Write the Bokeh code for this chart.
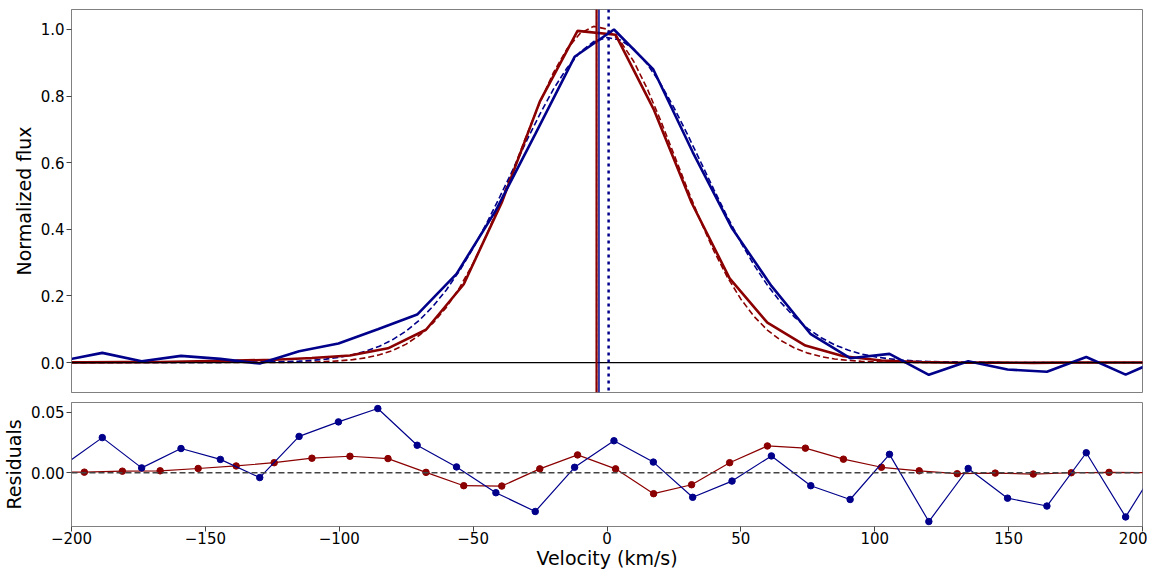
from bokeh.plotting import figure
from bokeh.layouts import column
from bokeh.models import Range1d, Span, FixedTicker, PrintfTickFormatter
from bokeh.embed import file_html
from bokeh.resources import INLINE

# ---- data ----
blue_v = [-203.2, -188.5, -173.8, -159.1, -144.4, -129.7, -115.0, -100.3, -85.6, -70.9,
          -56.2, -41.5, -26.8, -12.1, 2.6, 17.3, 32.0, 46.7, 61.4, 76.1,
          90.8, 105.5, 120.2, 134.9, 149.6, 164.3, 179.0, 193.7, 208.4]
blue_flux = [0.006, 0.029, 0.004, 0.020, 0.011, -0.003, 0.034, 0.057, 0.100, 0.144,
             0.266, 0.457, 0.686, 0.918, 1.000, 0.880, 0.632, 0.403, 0.230, 0.085,
             0.013, 0.026, -0.037, 0.004, -0.021, -0.0275, 0.0165, -0.0365, 0.0156]
blue_resid = [0.0057, 0.029, 0.004, 0.020, 0.011, -0.004, 0.030, 0.042, 0.053, 0.0227,
              0.0048, -0.0165, -0.032, 0.0045, 0.0264, 0.0088, -0.0203, -0.0069, 0.0139, -0.0107,
              -0.0221, 0.0152, -0.0403, 0.0035, -0.021, -0.0275, 0.0165, -0.0365, 0.0156]

red_v = [-209.4, -195.2, -181.0, -166.9, -152.7, -138.5, -124.3, -110.2, -96.0, -81.8,
         -67.6, -53.5, -39.3, -25.1, -11.0, 3.2, 17.4, 31.6, 45.8, 59.9,
         74.1, 88.3, 102.5, 116.6, 130.8, 145.0, 159.2, 173.4, 187.5, 201.6]
red_flux = [0.0003, 0.0005, 0.0013, 0.0016, 0.0035, 0.0056, 0.0085, 0.0135, 0.0213, 0.0426,
            0.0985, 0.2351, 0.4807, 0.7834, 0.9958, 0.9843, 0.7609, 0.4798, 0.2526, 0.1196,
            0.0509, 0.0188, 0.0060, 0.0018, -0.0008, -0.0003, -0.0011, 0.0, 0.0003, 0.0]
red_resid = [0.0003, 0.0005, 0.0013, 0.0016, 0.0035, 0.0056, 0.0083, 0.012, 0.0136, 0.0117,
             0.0003, -0.0107, -0.011, 0.0032, 0.0147, 0.0032, -0.0173, -0.0099, 0.0083, 0.0221,
             0.0203, 0.0112, 0.0045, 0.0016, -0.0008, -0.0003, -0.0011, 0.0, 0.0003, 0.0]

model_v = [-200, -150, -120, -115, -110, -105, -100, -95, -90, -85, -80, -75, -70, -65, -60,
           -55, -50, -45, -40, -35, -30, -25, -20, -15, -10, -5, 0, 5, 10, 15, 20, 25, 30,
           35, 40, 45, 50, 55, 60, 65, 70, 75, 80, 85, 90, 95, 100, 105, 110, 115, 120, 150, 200]
blue_model = [0.0, 0.0001, 0.0026, 0.0042, 0.0066, 0.0103, 0.0157, 0.0234, 0.0342, 0.0490,
              0.0689, 0.0947, 0.1277, 0.1686, 0.2180, 0.2763, 0.3433, 0.4177, 0.4981, 0.5818,
              0.6660, 0.7469, 0.8208, 0.8838, 0.9322, 0.9636, 0.9759, 0.9683, 0.9414, 0.8968,
              0.8370, 0.7655, 0.6858, 0.6021, 0.5180, 0.4366, 0.3604, 0.2916, 0.2312, 0.1796,
              0.1366, 0.1019, 0.0745, 0.0533, 0.0374, 0.0257, 0.0173, 0.0114, 0.0074, 0.0047,
              0.0029, 0.0001, 0.0]
red_model = [0.0, 0.0, 0.0004, 0.0008, 0.0016, 0.0028, 0.0050, 0.0086, 0.0143, 0.0231,
             0.0362, 0.0553, 0.0821, 0.1183, 0.1656, 0.2254, 0.2979, 0.3827, 0.4776, 0.5794,
             0.6829, 0.7820, 0.8703, 0.9410, 0.9886, 1.0093, 1.0012, 0.9651, 0.9038, 0.8226,
             0.7274, 0.6250, 0.5219, 0.4234, 0.3338, 0.2556, 0.1903, 0.1376, 0.0967, 0.0660,
             0.0438, 0.0282, 0.0177, 0.0108, 0.0064, 0.0037, 0.0020, 0.0011, 0.0006, 0.0003,
             0.0001, 0.0, 0.0]

red_center_data = -3.9
red_center_fit = -3.9
blue_center_data = -3.0
blue_center_fit = 0.6

x_ticks = [-200, -150, -100, -50, 0, 50, 100, 150, 200]
top_y_ticks = [0.0, 0.2, 0.4, 0.6, 0.8, 1.0]
res_y_ticks = [0.0, 0.05]

RED = "#8b0000"
BLUE = "#00008b"
FONT = "DejaVu Sans"


def style(p):
    p.outline_line_color = "#808080"
    p.outline_line_width = 1
    p.xgrid.visible = False
    p.ygrid.visible = False
    p.background_fill_color = "white"
    p.border_fill_color = "white"
    for ax in list(p.xaxis) + list(p.yaxis):
        ax.axis_line_color = "#808080"
        ax.major_tick_line_color = "#444444"
        ax.major_tick_out = 5
        ax.major_tick_in = 0
        ax.minor_tick_line_color = None
        ax.major_label_text_font = FONT
        ax.major_label_text_font_size = "15px"
        ax.major_label_text_color = "black"
        ax.major_label_standoff = 2
        ax.axis_label_text_font = FONT
        ax.axis_label_text_font_size = "19px"
        ax.axis_label_text_font_style = "normal"
        ax.axis_label_text_color = "black"
        ax.axis_label_standoff = 3


xr = Range1d(-200, 200)
minus_labels = {t: str(t).replace("-", "\u2212") for t in x_ticks}

p1 = figure(width=1147, height=398, x_range=xr, y_range=Range1d(-0.09, 1.06),
            output_backend="svg", toolbar_location=None, x_axis_location=None,
            min_border_left=60, min_border_right=5, min_border_top=9, min_border_bottom=6)
style(p1)
p1.yaxis.ticker = FixedTicker(ticks=top_y_ticks)
p1.yaxis.formatter = PrintfTickFormatter(format="%.1f")
p1.yaxis.axis_label = "Normalized flux"

p1.add_layout(Span(location=0, dimension="width", line_color="black", line_width=1.3))
p1.line(model_v, red_model, line_color=RED, line_width=1.6, line_dash="6 3")
p1.line(model_v, blue_model, line_color=BLUE, line_width=1.6, line_dash="6 3")
p1.line(red_v, red_flux, line_color=RED, line_width=2.6)
p1.line(blue_v, blue_flux, line_color=BLUE, line_width=2.6)
p1.add_layout(Span(location=red_center_data, dimension="height", line_color=RED, line_width=2.2))
p1.add_layout(Span(location=red_center_fit, dimension="height", line_color=RED, line_width=1.2, line_dash="4 2"))
p1.add_layout(Span(location=blue_center_data, dimension="height", line_color=BLUE, line_width=1.5))
p1.add_layout(Span(location=blue_center_fit, dimension="height", line_color=BLUE, line_width=2.5, line_dash="3 4"))

p2 = figure(width=1147, height=173, x_range=xr, y_range=Range1d(-0.0444, 0.058),
            output_backend="svg", toolbar_location=None,
            min_border_left=60, min_border_right=5, min_border_top=4, min_border_bottom=0)
style(p2)
p2.xaxis.ticker = FixedTicker(ticks=x_ticks)
p2.xaxis.major_label_overrides = minus_labels
p2.xaxis.major_label_standoff = 0
p2.xaxis.axis_label_standoff = 0
p2.xaxis.axis_label = "Velocity (km/s)"
p2.yaxis.ticker = FixedTicker(ticks=res_y_ticks)
p2.yaxis.formatter = PrintfTickFormatter(format="%.2f")
p2.yaxis.axis_label = "Residuals"

p2.add_layout(Span(location=0, dimension="width", line_color="#444444", line_width=1.5, line_dash="6 3"))
p2.line(red_v, red_resid, line_color=RED, line_width=1.2)
p2.scatter(red_v, red_resid, size=6.5, fill_color=RED, line_color=RED)
p2.line(blue_v, blue_resid, line_color=BLUE, line_width=1.2)
p2.scatter(blue_v, blue_resid, size=6.5, fill_color=BLUE, line_color=BLUE)

layout = column(p1, p2)
open("out.html", "w").write(file_html(layout, INLINE))
